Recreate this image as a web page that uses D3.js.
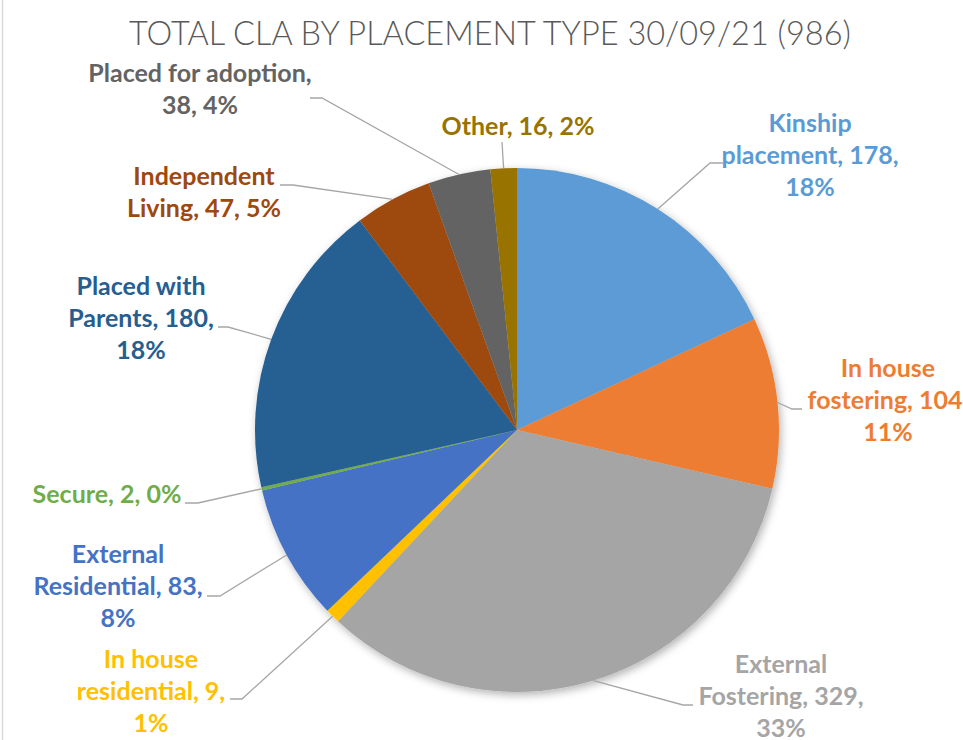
<!DOCTYPE html>
<html>
<head>
<meta charset="utf-8">
<script src="https://cdn.jsdelivr.net/npm/d3@7"></script>
<style>
  html, body { margin: 0; padding: 0; background: #fff; }
  svg { display: block; }
</style>
</head>
<body>
<div id="viz"></div>
<script>
// chart values, clockwise from 12 o'clock
const categories = ['Kinship placement', 'In house fostering', 'External Fostering', 'In house residential',
  'External Residential', 'Secure', 'Placed with Parents', 'Independent Living', 'Placed for adoption', 'Other'];
const values = [178, 104, 329, 9, 83, 2, 180, 47, 38, 16];
// words per line for each data label
const wrap = [[1, 2, 1], [2, 2, 1], [1, 2, 1], [2, 2, 1], [1, 2, 1], [3], [2, 2, 1], [1, 3], [3, 2], [3]];
const colors = ['#5B9BD5', '#ED7D31', '#A5A5A5', '#FFC000', '#4472C4', '#70AD47', '#255E91', '#9E480E', '#636363', '#997300'];

const width = 963, height = 740;
const cx = 517, cy = 430, radius = 262;
const total = d3.sum(values);

// label layout: text centre x, first baseline, leader elbow, leader end
const layout = [
  { x: 810, y: 132, elbow: [710, 163], end: [723, 163] },
  { x: 888, y: 377, elbow: [792, 409], end: [802, 409] },
  { x: 781, y: 673, elbow: [683, 705], end: [693, 705] },
  { x: 151, y: 668, elbow: [242, 699], end: [230, 699] },
  { x: 118, y: 563, elbow: [220, 596], end: [207, 596] },
  { x: 107, y: 503, elbow: [198, 503], end: [185, 503] },
  { x: 141, y: 295, elbow: [228, 327], end: [218, 327] },
  { x: 204, y: 185, elbow: [293, 185], end: [280, 185] },
  { x: 200, y: 82, elbow: [322, 98], end: [310, 98] },
  { x: 518, y: 135, elbow: [502, 142], end: [502, 142] }
];

const svg = d3.select('#viz').append('svg')
  .attr('width', width)
  .attr('height', height);

// left border of the chart area
svg.append('line')
  .attr('x1', 2.5).attr('x2', 2.5)
  .attr('y1', 0).attr('y2', height)
  .attr('stroke', '#d9d9d9')
  .attr('stroke-width', 1.5);

svg.append('text')
  .attr('x', 490)
  .attr('y', 45)
  .attr('text-anchor', 'middle')
  .attr('font-family', 'Lato, "Open Sans", sans-serif')
  .attr('font-weight', 300)
  .attr('font-size', 32.5)
  .attr('fill', '#595959')
  .text('TOTAL CLA BY PLACEMENT TYPE 30/09/21 (986)');

const defs = svg.append('defs');
defs.append('filter')
  .attr('id', 'shadow')
  .attr('x', '-10%').attr('y', '-10%')
  .attr('width', '125%').attr('height', '125%')
  .append('feDropShadow')
  .attr('dx', 2).attr('dy', 3)
  .attr('stdDeviation', 4)
  .attr('flood-color', '#000')
  .attr('flood-opacity', 0.3);

const pie = d3.pie().sort(null).value((d) => d);
const arcs = pie(values);
const arc = d3.arc().innerRadius(0).outerRadius(radius);
const edge = d3.arc().innerRadius(radius).outerRadius(radius);

const plot = svg.append('g')
  .attr('transform', `translate(${cx}, ${cy})`);

plot.append('g')
  .attr('filter', 'url(#shadow)')
  .selectAll('path').data(arcs)
  .enter().append('path')
    .attr('d', arc)
    .attr('fill', (d, i) => colors[i]);

// leader lines
svg.append('g')
  .selectAll('polyline').data(arcs)
  .enter().append('polyline')
    .attr('points', (d, i) => {
      const p = edge.centroid(d);
      const l = layout[i];
      return [[cx + p[0], cy + p[1]], l.elbow, l.end].map((q) => q.join(',')).join(' ');
    })
    .attr('fill', 'none')
    .attr('stroke', '#a6a6a6')
    .attr('stroke-width', 1.3);

// data labels
const labels = svg.append('g')
  .attr('font-family', 'Lato, "Open Sans", sans-serif')
  .attr('font-weight', 700)
  .attr('font-size', 25)
  .attr('text-anchor', 'middle');

categories.forEach((name, i) => {
  const pct = Math.round(values[i] / total * 100);
  const words = `${name}, ${values[i]}, ${pct}%`.split(' ');
  const lines = [];
  let k = 0;
  wrap[i].forEach((n) => {
    lines.push(words.slice(k, k + n).join(' '));
    k += n;
  });
  const t = labels.append('text')
    .attr('fill', colors[i]);
  lines.forEach((line, j) => {
    t.append('tspan')
      .attr('x', layout[i].x)
      .attr('y', layout[i].y + j * 32)
      .text(line);
  });
});
</script>
</body>
</html>
